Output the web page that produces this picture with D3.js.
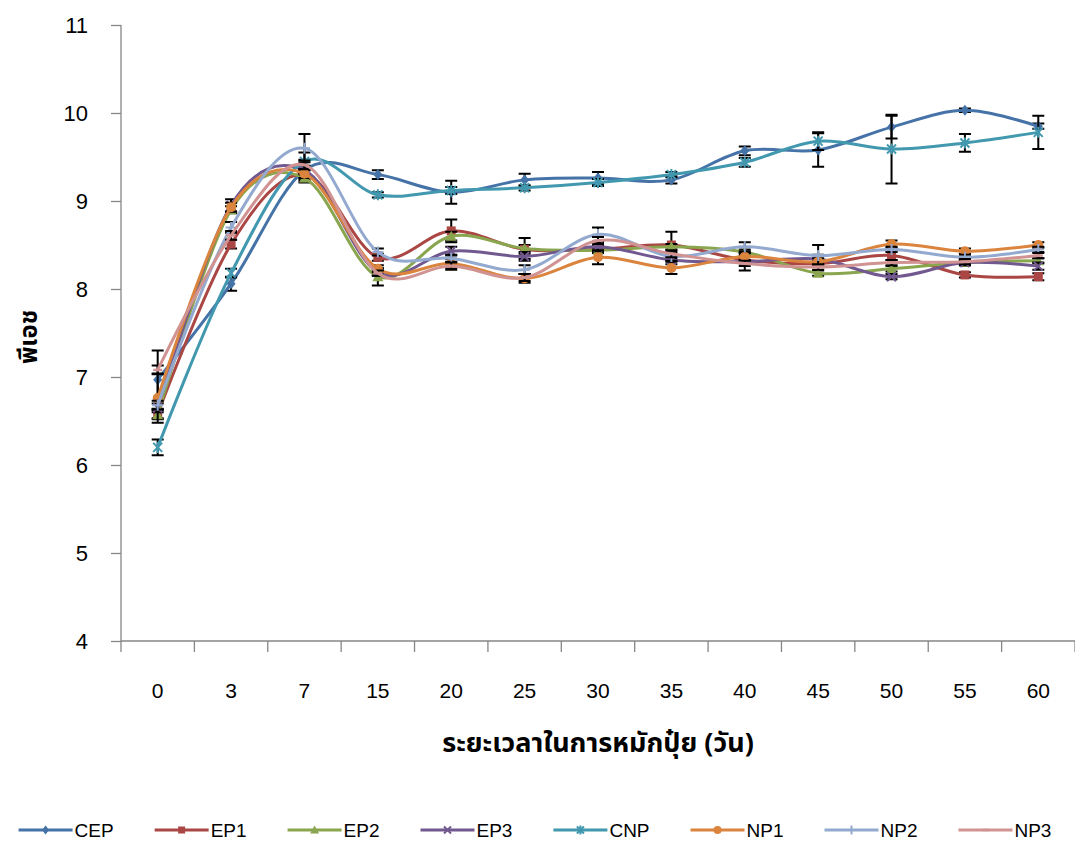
<!DOCTYPE html>
<html>
<head>
<meta charset="utf-8">
<script src="https://cdn.jsdelivr.net/npm/d3@7"></script>
<style>
  html, body { margin: 0; padding: 0; background: #fff; }
  svg { display: block; }
  text { font-family: "Liberation Sans", Arial, sans-serif; fill: #000; }
  .thai { font-family: "Noto Sans Thai", "Tahoma", "Loma", "Garuda", "Liberation Sans", sans-serif; font-weight: bold; }
</style>
</head>
<body>
<svg id="chart" width="1075" height="841"></svg>
<script>
// Composting days (categories on the x axis)
const categories = ["0", "3", "7", "15", "20", "25", "30", "35", "40", "45", "50", "55", "60"];
const yTicks = [4, 5, 6, 7, 8, 9, 10, 11];

// pH means per treatment
const CEP = [6.97, 8.06, 9.35, 9.30, 9.10, 9.24, 9.26, 9.24, 9.57, 9.58, 9.84, 10.03, 9.85];
const EP1 = [6.58, 8.51, 9.30, 8.36, 8.66, 8.45, 8.45, 8.50, 8.33, 8.29, 8.38, 8.16, 8.14];
const EP2 = [6.57, 8.90, 9.26, 8.14, 8.60, 8.46, 8.44, 8.48, 8.42, 8.18, 8.23, 8.30, 8.32];
const EP3 = [6.65, 8.95, 9.35, 8.19, 8.43, 8.37, 8.48, 8.33, 8.31, 8.34, 8.14, 8.30, 8.26];
const CNP = [6.20, 8.18, 9.45, 9.07, 9.12, 9.15, 9.21, 9.30, 9.44, 9.68, 9.59, 9.66, 9.78];
const NP1 = [6.76, 8.93, 9.31, 8.23, 8.29, 8.12, 8.36, 8.24, 8.37, 8.31, 8.51, 8.43, 8.50];
const NP2 = [6.68, 8.70, 9.60, 8.42, 8.35, 8.22, 8.62, 8.37, 8.48, 8.38, 8.45, 8.36, 8.45];
const NP3 = [7.08, 8.61, 9.41, 8.18, 8.26, 8.13, 8.55, 8.40, 8.29, 8.25, 8.30, 8.31, 8.38];

// Standard deviations (symmetric error bars)
const errCEP = [0.33, 0.08, 0.12, 0.05, 0.13, 0.07, 0.07, 0.04, 0.05, 0.19, 0.13, 0.02, 0.03];
const errEP1 = [0.05, 0.05, 0.05, 0.04, 0.13, 0.05, 0.04, 0.15, 0.04, 0.03, 0.05, 0.03, 0.04];
const errEP2 = [0.05, 0.04, 0.05, 0.10, 0.05, 0.12, 0.03, 0.03, 0.03, 0.03, 0.03, 0.03, 0.03];
const errEP3 = [0.05, 0.07, 0.05, 0.04, 0.05, 0.05, 0.05, 0.05, 0.10, 0.05, 0.03, 0.03, 0.04];
const errCNP = [0.09, 0.05, 0.10, 0.03, 0.04, 0.03, 0.04, 0.03, 0.05, 0.10, 0.39, 0.10, 0.19];
const errNP1 = [0.28, 0.05, 0.05, 0.04, 0.05, 0.05, 0.08, 0.07, 0.04, 0.04, 0.04, 0.03, 0.03];
const errNP2 = [0.05, 0.06, 0.16, 0.04, 0.04, 0.05, 0.08, 0.05, 0.05, 0.12, 0.03, 0.03, 0.03];
const errNP3 = [0.05, 0.05, 0.05, 0.03, 0.04, 0.04, 0.04, 0.04, 0.03, 0.03, 0.03, 0.03, 0.03];

const seriesNames = ["CEP", "EP1", "EP2", "EP3", "CNP", "NP1", "NP2", "NP3"];
const seriesValues = [CEP, EP1, EP2, EP3, CNP, NP1, NP2, NP3];
const seriesErrors = [errCEP, errEP1, errEP2, errEP3, errCNP, errNP1, errNP2, errNP3];
const seriesColors = ["#4572A7", "#AA4643", "#89A54E", "#71588F", "#4198AF", "#DB843D", "#93A9CF", "#D19392"];
const seriesMarkers = ["diamond", "square", "triangle", "x", "star", "circle", "plus", "dash"];

const xTitle = "ระยะเวลาในการหมักปุ๋ย (วัน)";
const yTitle = "พีเอช";

const svg = d3.select("#chart");
const axisColor = "#868686";

const x = d3.scaleBand().domain(categories).range([121, 1075]);
const y = d3.scaleLinear().domain([4, 11]).range([641, 25]);
const cx = d => x(d) + x.bandwidth() / 2;

// Y axis
const yAxis = svg.append("g").attr("transform", "translate(121,0)")
  .call(d3.axisLeft(y).tickValues(yTicks).tickSize(10).tickPadding(23).tickFormat(d3.format("d")));
yAxis.select(".domain").attr("stroke", axisColor).attr("stroke-width", 1.3).attr("d", "M0,25V641");
yAxis.selectAll(".tick line").attr("stroke", axisColor).attr("stroke-width", 1.3);
yAxis.selectAll(".tick text").attr("font-size", 22).attr("font-family", "Liberation Sans, Arial, sans-serif").attr("fill", "#000");

// X axis: tick marks sit on category boundaries
const xAxisG = svg.append("g");
xAxisG.append("line").attr("x1", 121).attr("x2", 1075).attr("y1", 641).attr("y2", 641)
  .attr("stroke", axisColor).attr("stroke-width", 1.3);
const boundaries = categories.map(c => x(c)).concat([x(categories[categories.length - 1]) + x.bandwidth()]);
xAxisG.selectAll("line.tk").data(boundaries).enter().append("line").attr("class", "tk")
  .attr("x1", d => d).attr("x2", d => d).attr("y1", 641).attr("y2", 652)
  .attr("stroke", axisColor).attr("stroke-width", 1.3);
xAxisG.selectAll("text").data(categories).enter().append("text")
  .attr("x", d => cx(d)).attr("y", 698).attr("text-anchor", "middle").attr("font-size", 21)
  .text(d => d);

// Axis titles
svg.append("text").attr("class", "thai").attr("x", 598).attr("y", 752).attr("text-anchor", "middle")
  .attr("font-size", 27).text(xTitle);
svg.append("text").attr("class", "thai").attr("transform", "translate(37,337) rotate(-90)")
  .attr("text-anchor", "middle").attr("font-size", 24).text(yTitle);

// Marker drawing
function drawMarker(g, type, color, px, py, s) {
  const h = s / 2;
  switch (type) {
    case "diamond":
      g.append("path").attr("d", `M${px},${py - h - 1}L${px + h},${py}L${px},${py + h + 1}L${px - h},${py}Z`).attr("fill", color);
      break;
    case "square":
      g.append("rect").attr("x", px - h).attr("y", py - h).attr("width", s).attr("height", s).attr("fill", color);
      break;
    case "triangle":
      g.append("path").attr("d", `M${px},${py - h - 1}L${px + h + 1},${py + h}L${px - h - 1},${py + h}Z`).attr("fill", color);
      break;
    case "circle":
      g.append("circle").attr("cx", px).attr("cy", py).attr("r", h + 0.5).attr("fill", color);
      break;
    case "x":
      g.append("path").attr("d", `M${px - h},${py - h}L${px + h},${py + h}M${px - h},${py + h}L${px + h},${py - h}`)
        .attr("stroke", color).attr("stroke-width", 2).attr("fill", "none");
      break;
    case "star":
      g.append("path").attr("d", `M${px - h},${py - h}L${px + h},${py + h}M${px - h},${py + h}L${px + h},${py - h}M${px},${py - h - 1}L${px},${py + h + 1}`)
        .attr("stroke", color).attr("stroke-width", 2).attr("fill", "none");
      break;
    case "plus":
      g.append("path").attr("d", `M${px - h - 1},${py}L${px + h + 1},${py}M${px},${py - h - 1}L${px},${py + h + 1}`)
        .attr("stroke", color).attr("stroke-width", 2).attr("fill", "none");
      break;
    case "dash":
      g.append("path").attr("d", `M${px - h},${py}L${px + h},${py}`)
        .attr("stroke", color).attr("stroke-width", 2.5).attr("fill", "none");
      break;
  }
}

const line = d3.line()
  .x((d, i) => cx(categories[i]))
  .y(d => y(d))
  .curve(d3.curveCatmullRom.alpha(0));

const plot = svg.append("g");
seriesNames.forEach((name, si) => {
  const vals = seriesValues[si];
  const errs = seriesErrors[si];
  const color = seriesColors[si];
  const g = plot.append("g").attr("class", "series-" + name);

  // error bars
  const eb = g.append("g");
  vals.forEach((v, i) => {
    const px = cx(categories[i]);
    const y1 = y(v + errs[i]), y2 = y(v - errs[i]);
    eb.append("path")
      .attr("d", `M${px},${y1}V${y2}M${px - 6},${y1}H${px + 6}M${px - 6},${y2}H${px + 6}`)
      .attr("stroke", "#000").attr("stroke-width", 2).attr("fill", "none");
  });

  g.append("path").datum(vals).attr("d", line)
    .attr("fill", "none").attr("stroke", color).attr("stroke-width", 3)
    .attr("stroke-linejoin", "round").attr("stroke-linecap", "round");

  const mk = g.append("g");
  vals.forEach((v, i) => drawMarker(mk, seriesMarkers[si], color, cx(categories[i]), y(v), 9));
});

// Legend along the bottom
const legend = svg.append("g");
const legendY = 830;
const items = [];
let lx = 0;
seriesNames.forEach((name, si) => {
  const it = legend.append("g");
  it.append("line").attr("x1", 0).attr("x2", 54).attr("y1", 0).attr("y2", 0)
    .attr("stroke", seriesColors[si]).attr("stroke-width", 3);
  drawMarker(it, seriesMarkers[si], seriesColors[si], 27, 0, 7);
  const t = it.append("text").attr("x", 56).attr("y", 7).attr("font-size", 19).text(name);
  const w = 56 + t.node().getComputedTextLength();
  items.push({ g: it, x: lx });
  lx += w + 41;
});
const totalW = lx - 41;
const startX = 535 - totalW / 2;
items.forEach(d => d.g.attr("transform", `translate(${startX + d.x},${legendY})`));
</script>
</body>
</html>
